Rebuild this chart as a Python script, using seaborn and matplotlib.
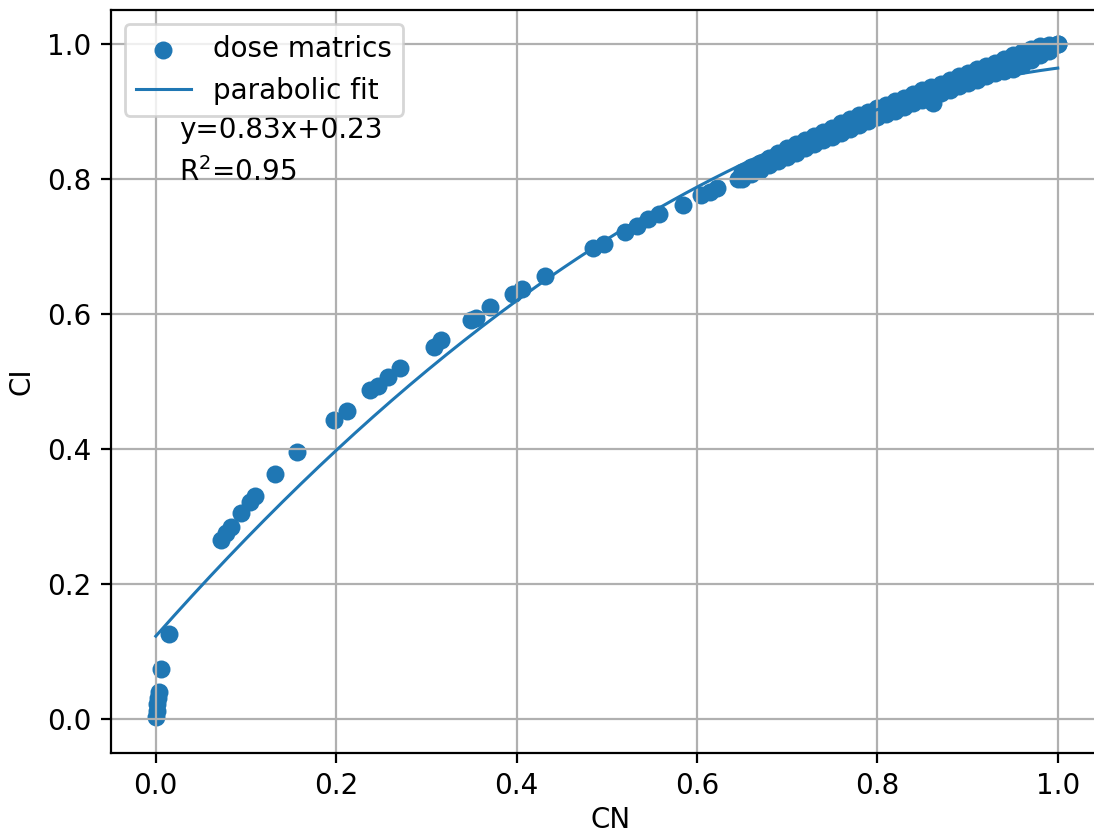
import matplotlib
matplotlib.use("Agg")
import matplotlib.pyplot as plt
import numpy as np
import pandas as pd
import seaborn as sns

# scatter points: sparse part (CN < 0.65)
cn_low = [0.000, 0.001, 0.001, 0.002, 0.003, 0.006, 0.015,
          0.072, 0.078, 0.083, 0.094, 0.104, 0.110, 0.132, 0.156, 0.198, 0.212,
          0.238, 0.246, 0.257, 0.271, 0.308, 0.316, 0.349, 0.355, 0.371, 0.396,
          0.406, 0.432, 0.485, 0.497, 0.520, 0.534, 0.546, 0.558, 0.584, 0.604,
          0.614, 0.622, 0.645, 0.862]
ci_low = [0.003, 0.012, 0.022, 0.032, 0.040, 0.074, 0.126,
          0.265, 0.276, 0.285, 0.306, 0.322, 0.330, 0.363, 0.395, 0.443, 0.457,
          0.487, 0.494, 0.507, 0.520, 0.551, 0.562, 0.591, 0.594, 0.610, 0.629,
          0.637, 0.656, 0.698, 0.704, 0.721, 0.730, 0.740, 0.748, 0.762, 0.776,
          0.781, 0.787, 0.800, 0.912]

# dense band (CN 0.65 - 1.0), upper and lower edge of the band
cn_band = [0.65, 0.66, 0.67, 0.68, 0.69, 0.70, 0.71, 0.72, 0.73, 0.74,
           0.75, 0.76, 0.77, 0.78, 0.79, 0.80, 0.81, 0.82, 0.83, 0.84,
           0.85, 0.86, 0.87, 0.88, 0.89, 0.90, 0.91, 0.92, 0.93, 0.94,
           0.95, 0.96, 0.97, 0.98, 0.99, 1.00]
ci_band_hi = [0.810, 0.817, 0.824, 0.831, 0.838, 0.845, 0.852, 0.858, 0.864, 0.870,
              0.876, 0.882, 0.888, 0.894, 0.899, 0.905, 0.910, 0.915, 0.920, 0.926,
              0.931, 0.936, 0.941, 0.946, 0.952, 0.957, 0.962, 0.967, 0.972, 0.977,
              0.983, 0.988, 0.993, 0.996, 0.998, 1.000]
ci_band_lo = [0.800, 0.807, 0.813, 0.820, 0.826, 0.833, 0.839, 0.845, 0.851, 0.857,
              0.862, 0.868, 0.874, 0.880, 0.885, 0.891, 0.896, 0.901, 0.906, 0.912,
              0.917, 0.922, 0.927, 0.932, 0.937, 0.942, 0.947, 0.952, 0.956, 0.960,
              0.963, 0.968, 0.976, 0.984, 0.990, 1.000]

# parabolic fit coefficients (a*x^2 + b*x + c)
fit_coef = [-0.6675, 1.5085, 0.123]
fit_x = np.linspace(0, 1, 200)

eq_text = "y=0.83x+0.23"
r2_text = "R$^2$=0.95"

df = pd.DataFrame({"CN": cn_low + cn_band + cn_band,
                   "CI": ci_low + ci_band_hi + ci_band_lo})
df_fit = pd.DataFrame({"CN": fit_x, "CI": np.polyval(fit_coef, fit_x)})

DPI = 200
plt.rcParams["font.size"] = 10
fig = plt.figure(figsize=(1094 / DPI, 836 / DPI), dpi=DPI)
ax = fig.add_axes([110.7 / 1094, (836 - 753) / 836, 1000 / 1094, 743 / 836])

sns.scatterplot(data=df, x="CN", y="CI", ax=ax, color="#1f77b4", s=42,
                linewidth=0, label="dose matrics")
sns.lineplot(data=df_fit, x="CN", y="CI", ax=ax, color="#1f77b4",
             linewidth=1.1, label="parabolic fit")

ax.text(0.026, 0.872, eq_text, va="center", ha="left")
ax.text(0.026, 0.81, r2_text, va="center", ha="left")

ax.set_xlim(-0.05, 1.0587)
ax.set_ylim(-0.05, 1.05)
ax.set_xticks([0.0, 0.2, 0.4, 0.6, 0.8, 1.0])
ax.set_yticks([0.0, 0.2, 0.4, 0.6, 0.8, 1.0])
ax.set_xlabel("CN", labelpad=2)
ax.set_ylabel("CI")
ax.spines["right"].set_visible(False)
ax.grid(True)
ax.legend(loc="upper left")

fig.savefig("out.png", dpi=DPI)
